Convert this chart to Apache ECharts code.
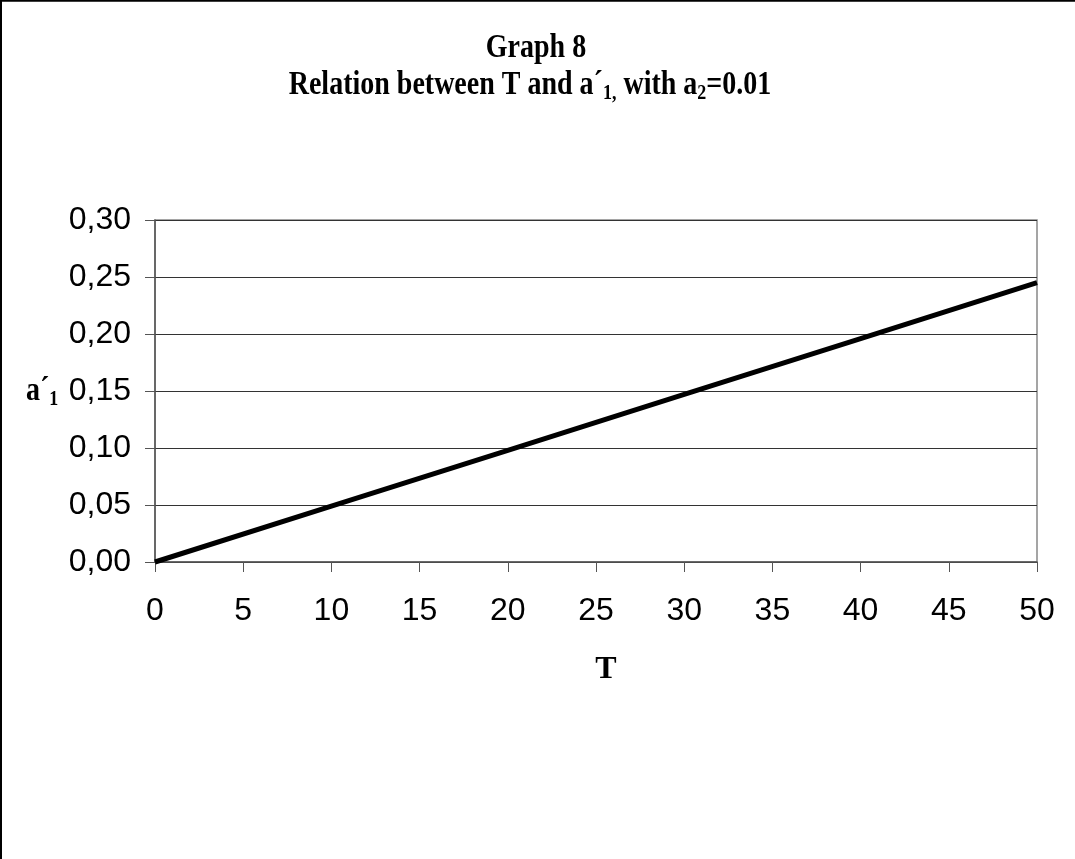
<!DOCTYPE html>
<html>
<head>
<meta charset="utf-8">
<script src="https://cdn.jsdelivr.net/npm/echarts@6/dist/echarts.min.js"></script>
<style>
html,body{margin:0;padding:0;background:#fff;}
#chart{width:1075px;height:859px;}
</style>
</head>
<body>
<div id="chart"></div>
<script>
// values
var tValues = [0, 10, 20, 30, 40, 50];
var a1Values = [0, 0.049, 0.098, 0.147, 0.196, 0.245];
var xTicks = [0, 5, 10, 15, 20, 25, 30, 35, 40, 45, 50];
var yTicks = [0, 0.05, 0.10, 0.15, 0.20, 0.25, 0.30];

var points = [];
for (var i = 0; i < tValues.length; i++) {
  points.push([tValues[i], a1Values[i]]);
}

var chart = echarts.init(document.getElementById('chart'));
var serif = '"Liberation Serif", "DejaVu Serif", serif';
var sans = '"Liberation Sans", Arial, sans-serif';

// bold serif text, a bit taller than wide like the old chart font
function tallText(x, y, text, rich, align) {
  return {
    type: 'text', x: x, y: y, scaleY: 1.2, silent: true,
    style: {text: text, rich: rich, align: align || 'center', verticalAlign: 'middle'}
  };
}

var titleRich = {
  t: {fontFamily: serif, fontWeight: 'bold', fontSize: 28, fill: '#000'},
  s: {fontFamily: serif, fontWeight: 'bold', fontSize: 18, fill: '#000', padding: [14, 0, 0, 0]}
};

chart.setOption({
  backgroundColor: '#fff',
  animation: false,
  graphic: [
    {type: 'rect', shape: {x: 1, y: 0.75, width: 1300, height: 1100}, style: {fill: 'none', stroke: '#000', lineWidth: 2}, silent: true},
    {type: 'rect', shape: {x: 155, y: 220, width: 882, height: 342}, style: {fill: 'none', stroke: '#888', lineWidth: 1.5}, silent: true, z: -1},
    tallText(536, 48, '{t|Graph 8}', titleRich),
    tallText(530, 85, '{t|Relation between T and a´}{s|1,}{t| with a}{s|2}{t|=0.01}', titleRich),
    tallText(26, 391, '{t|a´}{s|1}', titleRich, 'left')
  ],
  grid: {left: 155, right: 38, top: 220, bottom: 297},
  xAxis: {
    type: 'value',
    min: 0, max: 50, interval: 5,
    name: 'T',
    nameLocation: 'middle',
    nameGap: 92,
    nameTextStyle: {fontFamily: serif, fontWeight: 'bold', fontSize: 32, color: '#000', padding: [0, 0, 0, 20]},
    axisLine: {lineStyle: {color: '#555', width: 1.5}},
    axisTick: {show: true, inside: false, length: 10, lineStyle: {color: '#555'}},
    axisLabel: {
      fontFamily: sans, fontSize: 32, color: '#000', margin: 33,
      formatter: function (v) { return xTicks.indexOf(v) >= 0 ? String(v) : ''; }
    },
    splitLine: {show: false}
  },
  yAxis: {
    type: 'value',
    min: 0, max: 0.3, interval: 0.05,
    axisLine: {show: true, lineStyle: {color: '#555', width: 1.5}},
    axisTick: {show: true, inside: false, length: 10, lineStyle: {color: '#555'}},
    axisLabel: {
      fontFamily: sans, fontSize: 32, color: '#000', margin: 24,
      formatter: function (v) {
        var idx = -1;
        for (var k = 0; k < yTicks.length; k++) { if (Math.abs(yTicks[k] - v) < 1e-9) idx = k; }
        return idx >= 0 ? yTicks[idx].toFixed(2).replace('.', ',') : '';
      }
    },
    splitLine: {show: true, lineStyle: {color: '#333', width: 1}}
  },
  series: [{
    type: 'line',
    data: points,
    showSymbol: false,
    lineStyle: {color: '#000', width: 5},
    clip: false
  }]
});
</script>
</body>
</html>
